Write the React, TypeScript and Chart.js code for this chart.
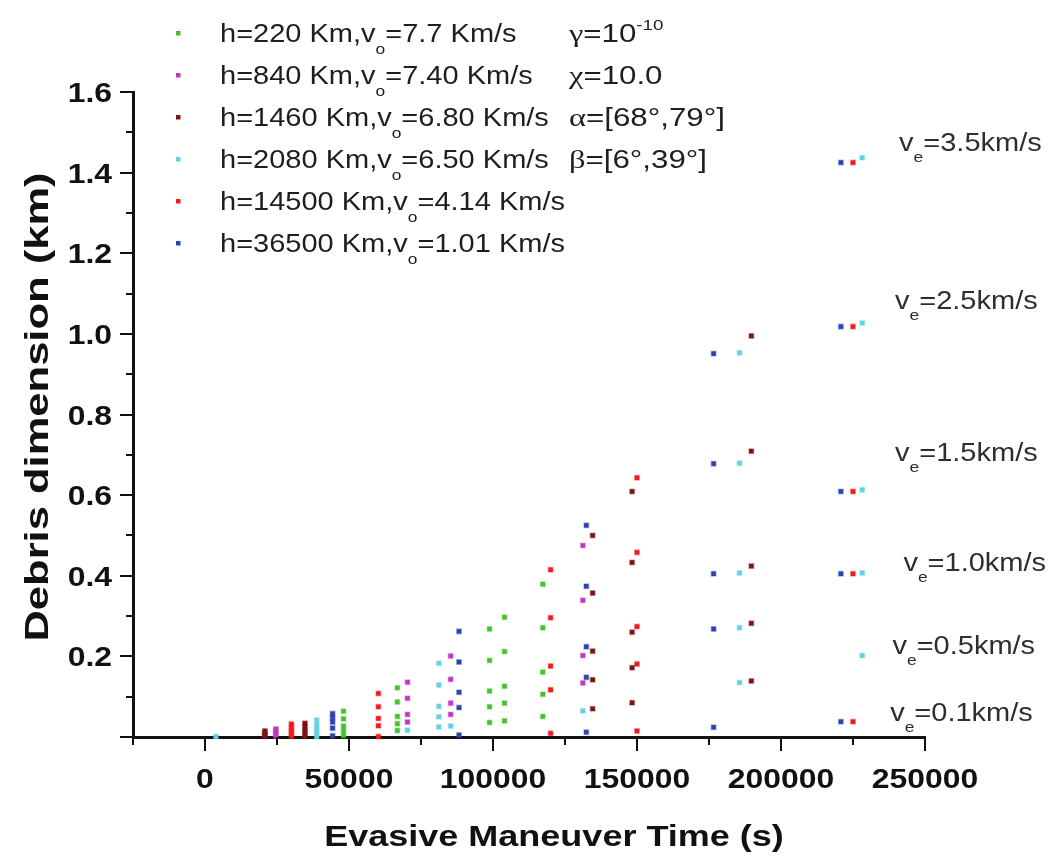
import { useEffect, useRef } from 'react';
import { Chart, registerables } from 'chart.js';

Chart.register(...registerables);

// ---------- data ----------
const altitudesKm = [220, 840, 1460, 2080, 14500, 36500];
const orbitalSpeeds = ['7.7', '7.40', '6.80', '6.50', '4.14', '1.01'];
const seriesColors = ['#46c22c', '#c236c2', '#7c1414', '#62d2e2', '#f01a1a', '#2c42b2'];

const h220Times = [48100, 66800, 98800, 104000, 117300];
const h220Dims = [
  [0.064, 0.045, 0.027, 0.016, 0.004],
  [0.122, 0.087, 0.051, 0.033, 0.016],
  [0.268, 0.19, 0.114, 0.075, 0.036],
  [0.297, 0.212, 0.126, 0.084, 0.04],
  [0.379, 0.271, 0.161, 0.106, 0.051],
];

const h840Times = [24600, 70300, 85300, 131200];
const h840Dims = [
  [0.02, 0.014, 0.008, 0.003],
  [0.136, 0.096, 0.056, 0.037],
  [0.201, 0.143, 0.084, 0.056],
  [0.475, 0.339, 0.202, 0.134],
];

const h1460Times = [20800, 34700, 134600, 148300, 189700];
const h1460Dims = [
  [0.015, 0.01, 0.005, 0.002],
  [0.034, 0.026, 0.017, 0.009, 0.002],
  [0.5, 0.357, 0.213, 0.142, 0.07],
  [0.609, 0.433, 0.26, 0.172, 0.085],
  [0.995, 0.709, 0.424, 0.282, 0.139],
];

const h2080Times = [3800, 38800, 70300, 81200, 85300, 131200, 185600, 228200];
const h2080Dims = [
  [0.001],
  [0.042, 0.03, 0.019, 0.01, 0.001],
  [0.017],
  [0.183, 0.129, 0.076, 0.05, 0.025],
  [0.027],
  [0.065],
  [0.953, 0.679, 0.407, 0.271, 0.135],
  [1.437, 1.027, 0.613, 0.407, 0.202],
];

const h14500Times = [30000, 60200, 120000, 150000, 225000];
const h14500Dims = [
  [0.032, 0.024, 0.016, 0.008, 0.002],
  [0.108, 0.075, 0.046, 0.028, 0.001],
  [0.415, 0.296, 0.176, 0.117, 0.009],
  [0.643, 0.458, 0.274, 0.181, 0.015],
  [1.425, 1.018, 0.609, 0.405, 0.038],
];

const h36500Times = [44300, 88200, 132400, 176600, 220800];
const h36500Dims = [
  [0.058, 0.048, 0.037, 0.022, 0.003],
  [0.262, 0.186, 0.111, 0.073, 0.005],
  [0.525, 0.374, 0.224, 0.148, 0.012],
  [0.951, 0.678, 0.405, 0.268, 0.024],
  [1.425, 1.018, 0.609, 0.405, 0.038],
];

const xTickLabels = ['0', '50000', '100000', '150000', '200000', '250000'];
const yTickLabels = ['0.2', '0.4', '0.6', '0.8', '1.0', '1.2', '1.4', '1.6'];

const paramSymbols = ['γ', 'χ', 'α', 'β'];
const paramValues = ['=10', '=10.0', '=[68°,79°]', '=[6°,39°]'];
const paramSuperscripts = ['-10', '', '', ''];

const veValues = ['3.5', '2.5', '1.5', '1.0', '0.5', '0.1'];
// label anchors in data coordinates (time, dimension)
const veAnchorTimes = [241000, 239600, 239600, 242500, 238700, 237900];
const veAnchorDims = [1.477, 1.084, 0.708, 0.433, 0.228, 0.063];

const xTitle = 'Evasive Maneuver Time (s)';
const yTitle = 'Debris dimension (km)';

// ---------- helpers ----------
const SANS = '"Liberation Sans", Arial, Helvetica, sans-serif';
const SERIF = '"Liberation Serif", "Times New Roman", serif';

function buildPoints(times: number[], dims: number[][]) {
  const pts: { x: number; y: number }[] = [];
  times.forEach((t, i) => dims[i].forEach((d) => pts.push({ x: t, y: d })));
  return pts;
}

const seriesPoints = [
  buildPoints(h220Times, h220Dims),
  buildPoints(h840Times, h840Dims),
  buildPoints(h1460Times, h1460Dims),
  buildPoints(h2080Times, h2080Dims),
  buildPoints(h14500Times, h14500Dims),
  buildPoints(h36500Times, h36500Dims),
];

function hexA(hex: string, a: number) {
  const n = parseInt(hex.slice(1), 16);
  return `rgba(${(n >> 16) & 255},${(n >> 8) & 255},${n & 255},${a})`;
}

type Seg = { t: string; font: string; dy?: number };

function drawRich(ctx: CanvasRenderingContext2D, segs: Seg[], x: number, baseline: number, k: number, color: string) {
  ctx.save();
  ctx.fillStyle = color;
  ctx.textAlign = 'left';
  ctx.textBaseline = 'alphabetic';
  let cx = x;
  for (const s of segs) {
    ctx.font = s.font;
    ctx.save();
    ctx.translate(cx, baseline + (s.dy || 0));
    ctx.scale(k, 1);
    ctx.fillText(s.t, 0, 0);
    ctx.restore();
    cx += ctx.measureText(s.t).width * k;
  }
  ctx.restore();
}

function drawStretched(
  ctx: CanvasRenderingContext2D,
  text: string,
  x: number,
  y: number,
  font: string,
  k: number,
  align: CanvasTextAlign,
  color: string,
) {
  ctx.save();
  ctx.font = font;
  ctx.fillStyle = color;
  ctx.textAlign = align;
  ctx.textBaseline = 'alphabetic';
  ctx.translate(x, y);
  ctx.scale(k, 1);
  ctx.fillText(text, 0, 0);
  ctx.restore();
}

const TICK_SIZE = 28;
const TICK_FONT = `bold ${TICK_SIZE}px ${SANS}`;
const TITLE_SIZE = 30;
const TITLE_FONT = `bold ${TITLE_SIZE}px ${SANS}`;
const YTITLE_SIZE = 34;
const LEG_SIZE = 25;
const LEG_FONT = `${LEG_SIZE}px ${SANS}`;
const SUB_FONT = `15px ${SANS}`;
const TEXT_COLOR = '#1e1e1e';

const decorPlugin = {
  id: 'decor',
  afterDraw(chart: any) {
    const ctx: CanvasRenderingContext2D = chart.ctx;
    const xs = chart.scales.x;
    const ys = chart.scales.y;
    const area = chart.chartArea;

    // tick marks (major + minor)
    ctx.save();
    ctx.strokeStyle = '#111';
    ctx.lineWidth = 2;
    for (const t of xs.ticks) {
      const px = Math.round(xs.getPixelForValue(t.value));
      const major = Math.round(t.value) % 50000 === 0;
      ctx.beginPath();
      ctx.moveTo(px, area.bottom);
      ctx.lineTo(px, area.bottom + (major ? 14 : 8));
      ctx.stroke();
    }
    for (const t of ys.ticks) {
      const py = Math.round(ys.getPixelForValue(t.value));
      const major = Math.round(t.value * 10) % 2 === 0;
      ctx.beginPath();
      ctx.moveTo(area.left, py);
      ctx.lineTo(area.left - (major ? 13 : 7), py);
      ctx.stroke();
    }
    ctx.restore();

    // tick labels
    const capT = TICK_SIZE * 0.358;
    xTickLabels.forEach((lab) => {
      const px = xs.getPixelForValue(Number(lab));
      drawStretched(ctx, lab, px, 778 + capT, TICK_FONT, 1.14, 'center', '#111');
    });
    yTickLabels.forEach((lab) => {
      const py = ys.getPixelForValue(Number(lab));
      drawStretched(ctx, lab, area.left - 21, py + capT, TICK_FONT, 1.14, 'right', '#111');
    });

    // axis titles
    drawStretched(ctx, xTitle, 554, 835 + TITLE_SIZE * 0.358, TITLE_FONT, 1.2, 'center', '#111');
    ctx.save();
    ctx.translate(36, 407);
    ctx.rotate(-Math.PI / 2);
    ctx.scale(1.28, 1);
    ctx.font = `bold ${YTITLE_SIZE}px ${SANS}`;
    ctx.fillStyle = '#111';
    ctx.textAlign = 'center';
    ctx.textBaseline = 'alphabetic';
    ctx.fillText(yTitle, 0, YTITLE_SIZE * 0.358);
    ctx.restore();

    // legend
    const legK = 1.16;
    const rowY0 = 33;
    const rowDy = 42;
    altitudesKm.forEach((h, i) => {
      const cy = rowY0 + i * rowDy;
      ctx.fillStyle = seriesColors[i];
      ctx.fillRect(176, cy - 2, 4.5, 4.5);
      drawRich(
        ctx,
        [
          { t: `h=${h} Km,v`, font: LEG_FONT },
          { t: 'o', font: SUB_FONT, dy: 12 },
          { t: `=${orbitalSpeeds[i]} Km/s`, font: LEG_FONT },
        ],
        220,
        cy + LEG_SIZE * 0.358,
        legK,
        TEXT_COLOR,
      );
    });

    // parameters
    paramSymbols.forEach((sym, i) => {
      const cy = rowY0 + i * rowDy;
      const segs: Seg[] = [
        { t: sym, font: `${LEG_SIZE + 1}px ${SERIF}` },
        { t: paramValues[i], font: LEG_FONT },
      ];
      if (paramSuperscripts[i]) segs.push({ t: paramSuperscripts[i], font: SUB_FONT, dy: -12 });
      drawRich(ctx, segs, 569, cy + LEG_SIZE * 0.358, 1.25, TEXT_COLOR);
    });

    // ve labels
    veValues.forEach((v, i) => {
      const px = xs.getPixelForValue(veAnchorTimes[i]);
      const py = ys.getPixelForValue(veAnchorDims[i]);
      drawRich(
        ctx,
        [
          { t: 'v', font: LEG_FONT },
          { t: 'e', font: SUB_FONT, dy: 11 },
          { t: `=${v}km/s`, font: LEG_FONT },
        ],
        px,
        py + LEG_SIZE * 0.358,
        1.16,
        '#2e2e2e',
      );
    });
  },
};

export default function App() {
  const ref = useRef<HTMLCanvasElement>(null);

  useEffect(() => {
    const canvas = ref.current;
    if (!canvas) return;
    const datasets = seriesPoints.map((pts, i) => ({
      label: `h=${altitudesKm[i]} Km`,
      data: pts,
      backgroundColor: seriesColors[i],
      borderColor: hexA(seriesColors[i], 0.35),
      borderWidth: 1.5,
      pointStyle: 'rect' as const,
      pointRadius: 3.2,
      clip: false as any,
    }));
    const chart = new Chart(canvas, {
      type: 'scatter',
      data: { datasets },
      options: {
        animation: false,
        responsive: false,
        devicePixelRatio: 1,
        events: [],
        layout: { padding: { left: 0, top: 92, right: 129, bottom: 0 } },
        plugins: { legend: { display: false }, tooltip: { enabled: false } },
        scales: {
          x: {
            type: 'linear',
            min: -25000,
            max: 250000,
            ticks: { stepSize: 25000, display: false },
            grid: { drawOnChartArea: false, drawTicks: false },
            border: { display: true, color: '#111', width: 3 },
            afterFit: (s: any) => {
              s.height = 123;
            },
          },
          y: {
            type: 'linear',
            min: 0,
            max: 1.6,
            ticks: { stepSize: 0.1, display: false },
            grid: { drawOnChartArea: false, drawTicks: false },
            border: { display: true, color: '#111', width: 3 },
            afterFit: (s: any) => {
              s.width = 133;
            },
          },
        },
      },
      plugins: [decorPlugin],
    });
    return () => chart.destroy();
  }, []);

  return (
    <div style={{ position: 'absolute', left: 0, top: 0, width: 1054, height: 860, background: '#fff' }}>
      <canvas ref={ref} width={1054} height={860} style={{ display: 'block', width: 1054, height: 860 }} />
    </div>
  );
}
